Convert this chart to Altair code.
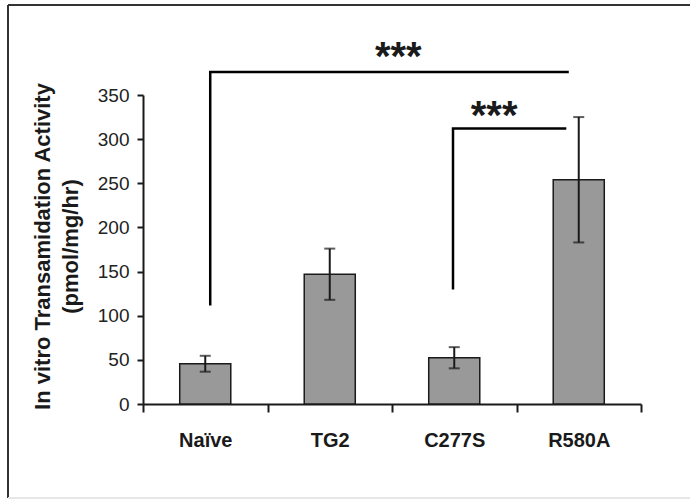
import altair as alt
import pandas as pd

# ---- data ----
categories = ["Naïve", "TG2", "C277S", "R580A"]
means = [45.6, 147, 52.4, 254]
errors = [9, 29, 12, 71]

# significance brackets (x in category units: band k spans k..k+1)
big_bracket_x = [0.54, 0.54, 3.41]
big_bracket_y = [113, 376, 376]
small_bracket_x = [2.49, 2.49, 3.39]
small_bracket_y = [131, 312, 312]
star_labels = ["***", "***"]
star_x = [2.05, 2.82]
star_y = [378, 311]

y_ticks = [0, 50, 100, 150, 200, 250, 300, 350]

FONT = "Liberation Sans"
INK = "#1a1a1a"

bars_df = pd.DataFrame({
    "cat": categories,
    "mean": means,
    "lo": [m - e for m, e in zip(means, errors)],
    "hi": [m + e for m, e in zip(means, errors)],
})

rows = []
for g, (xs, ys) in enumerate([(big_bracket_x, big_bracket_y), (small_bracket_x, small_bracket_y)]):
    for i, (xv, yv) in enumerate(zip(xs, ys)):
        rows.append({"g": g, "i": i, "pos": xv, "val": yv})
br_df = pd.DataFrame(rows)
stars_df = pd.DataFrame({"t": star_labels, "pos": star_x, "val": star_y})
frame_df = pd.DataFrame({"k": [0]})

yscale = alt.Scale(domain=[0, 350], nice=False, zero=True)
xscale_nom = alt.Scale(domain=categories, paddingInner=0, paddingOuter=0)
xscale_q = alt.Scale(domain=[0, 4], nice=False, zero=False)

y_axis = alt.Axis(values=y_ticks, grid=False, tickSize=6, tickWidth=2,
                  tickColor=INK, domainColor=INK, domainWidth=2,
                  labelFont=FONT, labelFontSize=19, labelColor="#222222",
                  labelPadding=8,
                  title=["In vitro Transamidation Activity", "(pmol/mg/hr)"],
                  titleFont=FONT, titleFontSize=22, titleFontWeight="bold",
                  titleColor=INK, titleX=-101, titleY=151,
                  titleBaseline="middle", titleLineHeight=28,
                  titleAngle=270)


def Y(field):
    return alt.Y(field, scale=yscale, axis=y_axis)


base = alt.Chart(bars_df)

bars = base.mark_bar(
    fill="#999999", stroke=INK, strokeWidth=1.5, width=alt.RelativeBandSize(0.41)
).encode(
    x=alt.X("cat:N", scale=xscale_nom, sort=categories,
            axis=alt.Axis(title=None, labelAngle=0, tickBand="extent",
                          labelFont=FONT, labelFontSize=20, labelFontWeight="bold",
                          labelColor=INK, labelPadding=18, tickSize=8, tickWidth=2,
                          tickColor=INK, domainColor=INK, domainWidth=2)),
    y=Y("mean:Q"),
)

err = base.mark_rule(color=INK, strokeWidth=2).encode(
    x=alt.X("cat:N", scale=xscale_nom, sort=categories, axis=None),
    y=Y("lo:Q"),
    y2="hi:Q",
)
cap_lo = base.mark_tick(color=INK, size=11, thickness=2).encode(
    x=alt.X("cat:N", scale=xscale_nom, sort=categories, axis=None),
    y=Y("lo:Q"),
)
cap_hi = base.mark_tick(color=INK, size=11, thickness=2).encode(
    x=alt.X("cat:N", scale=xscale_nom, sort=categories, axis=None),
    y=Y("hi:Q"),
)

brackets = alt.Chart(br_df).mark_line(color="#000000", strokeWidth=2.5,
                                      strokeCap="square", strokeJoin="miter").encode(
    x=alt.X("pos:Q", scale=xscale_q, axis=None),
    y=Y("val:Q"),
    detail="g:N",
    order="i:Q",
)

stars = alt.Chart(stars_df).mark_text(font=FONT, fontSize=40, fontWeight="bold",
                                      color=INK, baseline="alphabetic", align="center").encode(
    x=alt.X("pos:Q", scale=xscale_q, axis=None),
    y=Y("val:Q"),
    text="t:N",
)

# outer figure frame (decoration)
frame_top = alt.Chart(frame_df).mark_rule(color="#333333", strokeWidth=2).encode(
    x=alt.value(-135), x2=alt.value(600), y=alt.value(-90))
frame_left = alt.Chart(frame_df).mark_rule(color="#333333", strokeWidth=2).encode(
    x=alt.value(-135), y=alt.value(-90), y2=alt.value(403))
frame_bottom = alt.Chart(frame_df).mark_rule(color="#e6e6e6", strokeWidth=2).encode(
    x=alt.value(-135), x2=alt.value(600), y=alt.value(403))

chart = alt.layer(
    bars, err, cap_lo, cap_hi, brackets, stars,
    frame_top, frame_left, frame_bottom,
).resolve_scale(x="independent").properties(
    width=498, height=309,
    autosize=alt.AutoSizeParams(type="none"),
    padding={"left": 143, "top": 95, "right": 49, "bottom": 99},
    background="white",
).configure_view(stroke=None)

chart.save("out.html", embed_options={"renderer": "svg", "actions": False})
